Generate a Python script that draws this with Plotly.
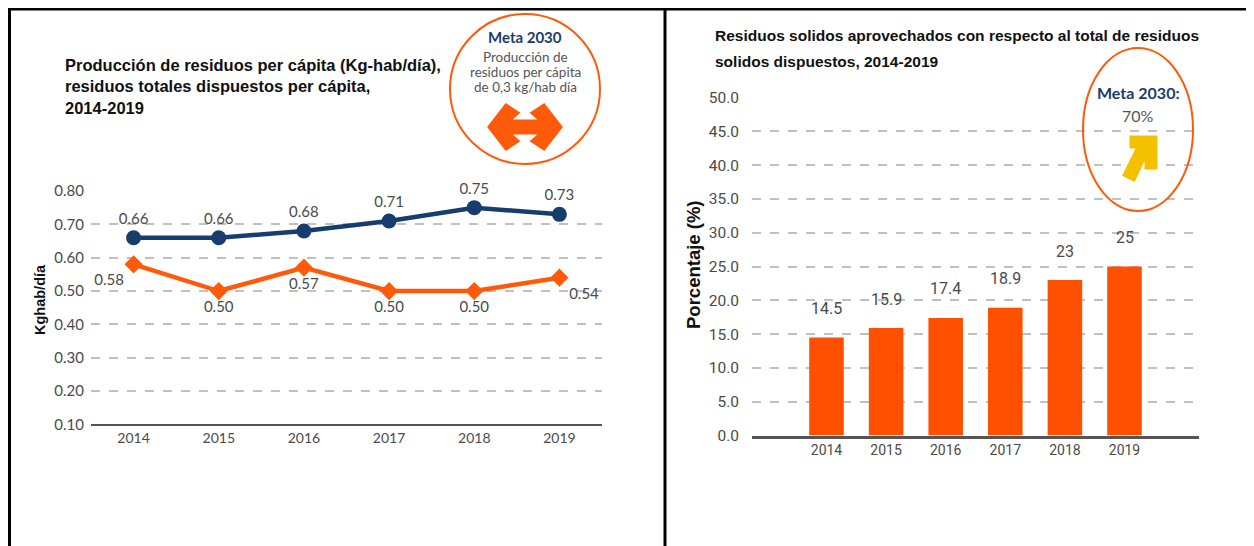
import plotly.graph_objects as go

W, H = 1254, 546
OFF = 8  # page margin around the figure

# ---- data ----
years = ["2014", "2015", "2016", "2017", "2018", "2019"]
produccion = [0.66, 0.66, 0.68, 0.71, 0.75, 0.73]
dispuestos = [0.58, 0.50, 0.57, 0.50, 0.50, 0.54]
aprovechados = [14.5, 15.9, 17.4, 18.9, 23, 25]
aprov_labels = ["14.5", "15.9", "17.4", "18.9", "23", "25"]
left_ticks = [0.1, 0.2, 0.3, 0.4, 0.5, 0.6, 0.7, 0.8]
right_ticks = [0, 5, 10, 15, 20, 25, 30, 35, 40, 45, 50]

NAVY = "#173d6e"
ORANGE = "#ff5a0a"
BAR = "#ff5000"
GRAY = "#4a4a4a"
ARIAL = "Liberation Sans, Arial, sans-serif"


def px(x):
    return (x - OFF) / W


def py(y):
    return 1 - (y - OFF) / H


def poly(points):
    return "M " + " L ".join(f"{px(x):.5f},{py(y):.5f}" for x, y in points) + " Z"


def note(x, y, text, font, **kw):
    d = dict(x=px(x), y=py(y), xref="paper", yref="paper", text=text, showarrow=False,
             xanchor="center", yanchor="middle", font=font)
    d.update(kw)
    return d


fig = go.Figure()

fig.add_trace(go.Scatter(
    x=years, y=produccion, mode="lines+markers+text",
    text=[f"{v:.2f}" for v in produccion], textposition="top center",
    textfont=dict(family="Lato", size=15, color=GRAY),
    line=dict(color=NAVY, width=4.5), marker=dict(size=15, color=NAVY),
    cliponaxis=False, xaxis="x", yaxis="y", showlegend=False,
))
fig.add_trace(go.Scatter(
    x=years, y=dispuestos, mode="lines+markers+text",
    text=[f"{v:.2f}" for v in dispuestos],
    textposition=["bottom left", "bottom center", "bottom center",
                  "bottom center", "bottom center", "bottom right"],
    textfont=dict(family="Lato", size=15, color=GRAY),
    line=dict(color=ORANGE, width=4.5),
    marker=dict(size=14, symbol="diamond", color=ORANGE),
    cliponaxis=False, xaxis="x", yaxis="y", showlegend=False,
))
fig.add_trace(go.Bar(
    x=years, y=aprovechados, marker=dict(color=BAR, line=dict(width=0)),
    width=0.58, xaxis="x2", yaxis="y2", showlegend=False,
))

grid = dict(showgrid=True, gridcolor="#c0c0c0", gridwidth=1.6, griddash="dash", zeroline=False)

fig.update_layout(
    width=W, height=H, margin=dict(l=0, r=0, t=0, b=0, autoexpand=False),
    paper_bgcolor="white", plot_bgcolor="white",
    xaxis=dict(domain=[px(91), px(602)], anchor="y", range=[-0.5, 5.5], type="category",
               automargin=False, showline=True, linecolor="#555555", linewidth=2, ticks="",
               tickfont=dict(family="Lato", size=14, color=GRAY), showgrid=False),
    yaxis=dict(domain=[py(424.4), py(191)], anchor="x", range=[0.1, 0.8], automargin=False,
               tickvals=left_ticks, tickformat=".2f", ticklabelstandoff=6,
               tickfont=dict(family="Lato", size=15, color=GRAY), **grid),
    xaxis2=dict(domain=[px(752), px(1199)], anchor="y2", range=[-1.25, 6.25], type="category",
                automargin=False, showline=True, linecolor="#555555", linewidth=3, ticks="",
                tickfont=dict(family="Roboto", size=14, color=GRAY), showgrid=False),
    yaxis2=dict(domain=[py(435.5), py(97.6)], anchor="x2", range=[0, 50], automargin=False,
                tickvals=right_ticks, tickformat=".1f", ticklabelstandoff=12,
                tickfont=dict(family="Roboto", size=15.5, color=GRAY), **grid),
    bargap=0.42,
)

ann = []
# bar value labels (category index on x2)
for i, (v, lab) in enumerate(zip(aprovechados, aprov_labels)):
    ann.append(dict(x=i, y=v, xref="x2", yref="y2", text=lab, showarrow=False,
                    xanchor="center", yanchor="middle", yshift=29,
                    font=dict(family="Roboto", size=16, color=GRAY)))

ann += [
    note(63, 54, "<b>Producción de residuos per cápita (Kg-hab/día),<br>residuos totales dispuestos per cápita,<br>2014-2019</b>",
         dict(family=ARIAL, size=16.5, color="#111111"), xanchor="left", yanchor="top", align="left"),
    note(713, 35, "<b>Residuos solidos aprovechados con respecto al total de residuos</b>",
         dict(family=ARIAL, size=15.5, color="#111111"), xanchor="left"),
    note(713, 62, "<b>solidos dispuestos, 2014-2019</b>",
         dict(family=ARIAL, size=15.5, color="#111111"), xanchor="left"),
    note(40, 300, "<b>Kghab/día</b>", dict(family=ARIAL, size=14.5, color="#111111"), textangle=-90),
    note(693, 265, "<b>Porcentaje (%)</b>", dict(family=ARIAL, size=18.5, color="#111111"), textangle=-90),
    # meta 2030 left
    note(525, 37, "<b>Meta 2030</b>", dict(family="Lato", size=15, color=NAVY)),
    note(525, 57, "Producción de", dict(family="Lato", size=13.5, color="#555555")),
    note(525, 72, "residuos per cápita", dict(family="Lato", size=13.5, color="#555555")),
    note(525, 87, "de 0,3 kg/hab día", dict(family="Lato", size=13.5, color="#555555")),
    # meta 2030 right
    note(1138, 92, "<b>Meta 2030:</b>", dict(family="Lato", size=16, color=NAVY)),
    note(1138, 116, "70%", dict(family="Lato", size=16, color="#555555")),
]

shapes = [
    # frame lines
    dict(type="line", xref="paper", yref="paper", x0=px(8), x1=1, y0=py(9), y1=py(9),
         line=dict(color="black", width=3)),
    dict(type="line", xref="paper", yref="paper", x0=px(9.5), x1=px(9.5), y0=py(9), y1=0,
         line=dict(color="black", width=3)),
    dict(type="line", xref="paper", yref="paper", x0=px(665), x1=px(665), y0=py(9), y1=0,
         line=dict(color="black", width=3)),
    # circles
    dict(type="circle", xref="paper", yref="paper", x0=px(450), x1=px(600), y0=py(164), y1=py(14),
         line=dict(color=ORANGE, width=2), fillcolor="rgba(0,0,0,0)"),
    dict(type="circle", xref="paper", yref="paper", x0=px(1083), x1=px(1193), y0=py(211), y1=py(48),
         line=dict(color=ORANGE, width=2), fillcolor="rgba(0,0,0,0)"),
    # double arrow
    dict(type="path", xref="paper", yref="paper", fillcolor=ORANGE,
         line=dict(color=ORANGE, width=3),
         path=poly([(489, 127), (506, 105), (518, 113), (509, 121), (541, 121), (532, 113),
                    (544, 105), (561, 127), (544, 149), (532, 141), (541, 133), (509, 133),
                    (518, 141), (506, 149)])),
    # up-right arrow
    dict(type="path", xref="paper", yref="paper", fillcolor="#f5c000",
         line=dict(color="#f5c000", width=3),
         path=poly([(1131, 137), (1156, 137), (1156, 168), (1146, 168), (1146, 154),
                    (1134, 180), (1124, 175), (1138, 147), (1131, 147)])),
]

fig.update_layout(annotations=ann, shapes=shapes)
fig.write_html("out.html")
